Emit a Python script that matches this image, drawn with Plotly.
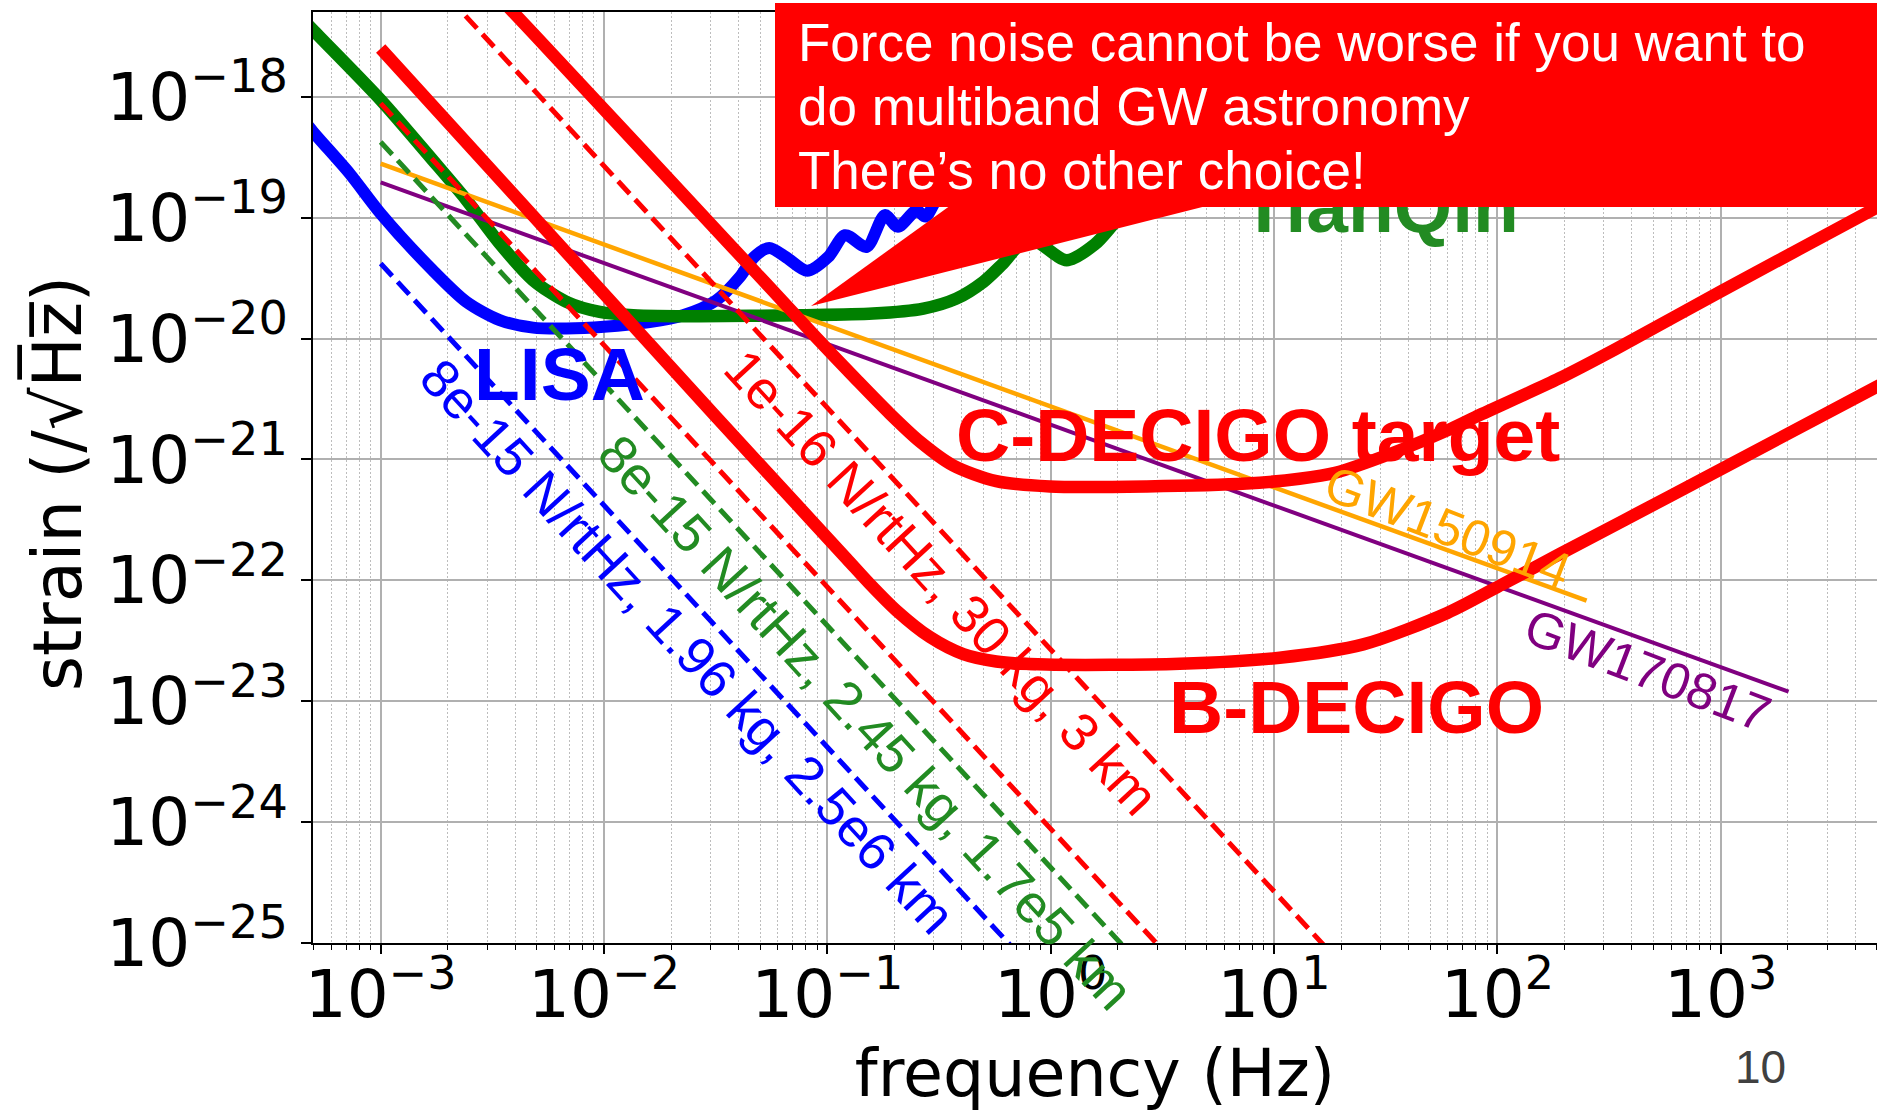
import plotly.graph_objects as go

# ---------------- data ----------------
# LISA sensitivity (thick blue)
lisa_f = [3.98e-4, 4.98e-4, 7.26e-4, 1.0e-3, 1.71e-3, 2.42e-3, 3.41e-3, 4.81e-3, 6.79e-3, 1.0e-2,
          1.60e-2, 2.26e-2, 3.18e-2, 4.06e-2, 4.68e-2, 5.50e-2, 6.56e-2, 8.13e-2, 1.01e-1, 1.20e-1,
          1.50e-1, 1.81e-1, 2.07e-1, 2.51e-1, 2.75e-1, 3.16e-1, 3.98e-1]
lisa_h = [8.51e-19, 5.13e-19, 2.32e-19, 1.08e-19, 3.67e-20, 2.01e-20, 1.42e-20, 1.23e-20, 1.21e-20, 1.25e-20,
          1.37e-20, 1.56e-20, 2.07e-20, 3.24e-20, 4.68e-20, 5.62e-20, 4.68e-20, 3.63e-20, 4.73e-20, 7.16e-20,
          5.73e-20, 1.05e-19, 8.39e-20, 1.15e-19, 1.02e-19, 1.51e-19, 2.0e-19]

# TianQin sensitivity (thick green)
tianqin_f = [3.98e-4, 4.98e-4, 1.0e-3, 1.71e-3, 2.42e-3, 3.41e-3, 4.81e-3, 6.79e-3, 9.57e-3, 1.35e-2,
             2.69e-2, 7.52e-2, 1.60e-1, 2.69e-1, 3.78e-1, 4.99e-1, 6.12e-1, 7.94e-1, 1.18, 1.58, 2.04, 3.16]
tianqin_h = [5.50e-18, 3.56e-18, 9.40e-19, 2.99e-19, 1.40e-19, 6.11e-20, 3.04e-20, 2.01e-20, 1.66e-20, 1.56e-20,
             1.53e-20, 1.56e-20, 1.61e-20, 1.77e-20, 2.14e-20, 2.94e-20, 4.18e-20, 6.76e-20, 4.45e-20, 6.03e-20,
             1.0e-19, 1.78e-19]

# C-DECIGO target (thick red, upper)
cdecigo_f = [2.51e-3, 4.81e-3, 3.78e-2, 8.79e-2, 1.35e-1, 1.90e-1, 2.59e-1, 3.66e-1, 5.71e-1, 9.91e-1,
             2.69, 7.53, 13.0, 18.8, 33.5, 59.7, 79.6, 189, 336, 1000, 4900, 6310]
cdecigo_h = [1.20e-17, 3.35e-18, 5.62e-20, 1.05e-20, 4.57e-21, 2.40e-21, 1.41e-21, 8.91e-22, 6.61e-22, 5.98e-22,
             5.98e-22, 6.31e-22, 6.93e-22, 7.76e-22, 1.12e-21, 1.74e-21, 2.24e-21, 4.68e-21, 8.13e-21, 2.45e-20,
             1.19e-19, 1.53e-19]

# B-DECIGO (thick red, lower)
bdecigo_f = [1.0e-3, 3.18e-2, 6.12e-2, 1.22e-1, 1.55e-1, 2.04e-1, 2.88e-1, 4.06e-1, 5.71e-1, 9.57e-1,
             3.78, 10.6, 25.1, 59.7, 106, 189, 598, 5010, 6310]
bdecigo_h = [2.51e-18, 2.24e-21, 6.03e-22, 1.51e-22, 9.33e-23, 5.62e-23, 3.39e-23, 2.45e-23, 2.13e-23, 2.01e-23,
             2.04e-23, 2.29e-23, 2.95e-23, 5.37e-23, 9.33e-23, 1.64e-22, 5.01e-22, 4.0e-21, 5.01e-21]

# GW sources (thin straight lines)
gw150914_f = [1.0e-3, 251]
gw150914_h = [2.80e-19, 6.79e-23]
gw170817_f = [1.0e-3, 2014]
gw170817_h = [1.96e-19, 1.20e-23]

# force-noise lines (dashed)
force_lisa_f = [1.0e-3, 1.0]
force_lisa_h = [4.17e-20, 4.17e-26]
force_tq_f = [1.0e-3, 3.16]
force_tq_h = [4.22e-19, 4.22e-26]
force_bdec_f = [1.0e-3, 3.98]
force_bdec_h = [8.81e-19, 5.56e-26]
force_cdec_f = [1.0e-3, 31.6]
force_cdec_h = [2.68e-17, 2.68e-26]

# tick labels
x_tick_vals = [1e-3, 1e-2, 1e-1, 1e0, 1e1, 1e2, 1e3]
x_tick_text = ["10<sup>−3</sup>", "10<sup>−2</sup>", "10<sup>−1</sup>", "10<sup>0</sup>",
               "10<sup>1</sup>", "10<sup>2</sup>", "10<sup>3</sup>"]
y_tick_vals = [1e-25, 1e-24, 1e-23, 1e-22, 1e-21, 1e-20, 1e-19, 1e-18]
y_tick_text = ["10<sup>−25</sup>", "10<sup>−24</sup>", "10<sup>−23</sup>", "10<sup>−22</sup>",
               "10<sup>−21</sup>", "10<sup>−20</sup>", "10<sup>−19</sup>", "10<sup>−18</sup>"]
x_minor_vals = [k * 10.0 ** n for n in range(-4, 4) for k in range(2, 10)]

callout_lines = ["Force noise cannot be worse if you want to",
                 "do multiband GW astronomy",
                 "There’s no other choice!"]

# ---------------- layout helpers ----------------
W, H = 1877, 1111
ML, MR, MT, MB = 313, 0, 12, 168
PL, PR, PT, PB = ML, W - MR, MT, H - MB


def px(x):
    return (x - PL) / (PR - PL)


def py(y):
    return (PB - y) / (PB - PT)


ARIAL = "Liberation Sans, Arial, sans-serif"
DEJAVU = "DejaVu Sans, sans-serif"
RED = "#FF0000"
BLUE = "#0000FF"
GREEN = "#008000"
FGREEN = "#228B22"
ORANGE = "#FFA500"
PURPLE = "#800080"

fig = go.Figure()


def add_line(f, h, color, width, dash="solid", shape="linear"):
    fig.add_trace(go.Scatter(x=f, y=h, mode="lines",
                             line=dict(color=color, width=width, dash=dash, shape=shape, smoothing=0.8),
                             showlegend=False, hoverinfo="skip"))


THICK = 12.5
DASH = "17px,8px"
add_line(lisa_f, lisa_h, BLUE, 12, shape="spline")
add_line(tianqin_f, tianqin_h, GREEN, THICK, shape="spline")
add_line(gw150914_f, gw150914_h, ORANGE, 4.5)
add_line(gw170817_f, gw170817_h, PURPLE, 4)
add_line(cdecigo_f, cdecigo_h, RED, THICK, shape="spline")
add_line(bdecigo_f, bdecigo_h, RED, THICK, shape="spline")
add_line(force_lisa_f, force_lisa_h, BLUE, 5, dash=DASH)
add_line(force_tq_f, force_tq_h, FGREEN, 5, dash=DASH)
add_line(force_bdec_f, force_bdec_h, RED, 5, dash=DASH)
add_line(force_cdec_f, force_cdec_h, RED, 5, dash=DASH)

annotations = []


def label(x, y, text, size, color, bold=False, angle=0, family=ARIAL, xanchor="center"):
    annotations.append(dict(xref="paper", yref="paper", x=px(x), y=py(y), text=text,
                            showarrow=False, xanchor=xanchor, yanchor="middle",
                            textangle=angle,
                            font=dict(family=family, size=size, color=color,
                                      weight="bold" if bold else "normal")))


label(559, 374, "LISA", 75, BLUE, bold=True)
label(1258, 435, "C-DECIGO target", 75, RED, bold=True)
label(1356, 707, "B-DECIGO", 75, RED, bold=True)
label(1380, 206, "TianQin", 75, FGREEN, bold=True)
label(1448, 527, "GW150914", 51, ORANGE, angle=21)
label(1648, 670, "GW170817", 51, PURPLE, angle=21)
label(688, 646, "8e-15 N/rtHz, 1.96 kg, 2.5e6 km", 53.5, BLUE, angle=47.3)
label(866, 722, "8e-15 N/rtHz, 2.45 kg, 1.7e5 km", 53.5, FGREEN, angle=47.3)
label(942, 582, "1e-16 N/rtHz, 30 kg, 3 km", 53.5, RED, angle=47.3)

# red callout box (drawn after the TianQin label so it covers it)
annotations.append(dict(xref="paper", yref="paper", x=px(775), y=py(3),
                        xanchor="left", yanchor="top", showarrow=False, text=" ",
                        width=1150, height=204, borderpad=0, bgcolor=RED, borderwidth=0,
                        font=dict(family=ARIAL, size=10, color=RED)))
for i, (txt, base) in enumerate(zip(callout_lines, [61, 125, 189])):
    label(796, base - 19, txt, 53, "white", xanchor="left")

# y axis title (rotated)
label(57, 484, "strain (/√H\u0305z\u0305)", 67, "black", angle=-90, family=DEJAVU)

# page number
label(1760, 1067, "10", 46, "#404040")

shapes = [dict(type="path", xref="paper", yref="paper", layer="above",
               path=f"M {px(811)},{py(306)} L {px(958)},{py(200)} L {px(1230)},{py(200)} Z",
               fillcolor=RED, line=dict(width=0))]

fig.update_layout(
    template="none",
    width=W, height=H,
    margin=dict(l=ML, r=MR, t=MT, b=MB, pad=0),
    paper_bgcolor="white", plot_bgcolor="white",
    showlegend=False,
    annotations=annotations,
    shapes=shapes,
    xaxis=dict(type="log", range=[-3.303, 3.70], autorange=False,
               tickmode="array", tickvals=x_tick_vals, ticktext=x_tick_text,
               ticks="outside", ticklen=9, tickwidth=1.5, tickcolor="black",
               tickfont=dict(family=DEJAVU, size=66, color="black"),
               ticklabelstandoff=-16,
               showline=True, linecolor="black", linewidth=2, mirror=True,
               showgrid=True, gridcolor="#b0b0b0", gridwidth=1.5, zeroline=False,
               minor=dict(tickmode="array", tickvals=x_minor_vals, ticks="outside", ticklen=5,
                          tickwidth=1, tickcolor="black", showgrid=True,
                          gridcolor="#bdbdbd", gridwidth=1, griddash="2px,2px"),
               title=dict(text="frequency (Hz)", font=dict(family=DEJAVU, size=65, color="black"),
                          standoff=31),
               automargin=False),
    yaxis=dict(type="log", range=[-25.0, -17.299], autorange=False,
               tickmode="array", tickvals=y_tick_vals, ticktext=y_tick_text,
               ticks="outside", ticklen=10, tickwidth=1.5, tickcolor="black",
               tickfont=dict(family=DEJAVU, size=66, color="black"),
               showline=True, linecolor="black", linewidth=2, mirror=False,
               showgrid=True, gridcolor="#b0b0b0", gridwidth=1.5, zeroline=False,
               automargin=False),
)

fig.write_html("out.html")
